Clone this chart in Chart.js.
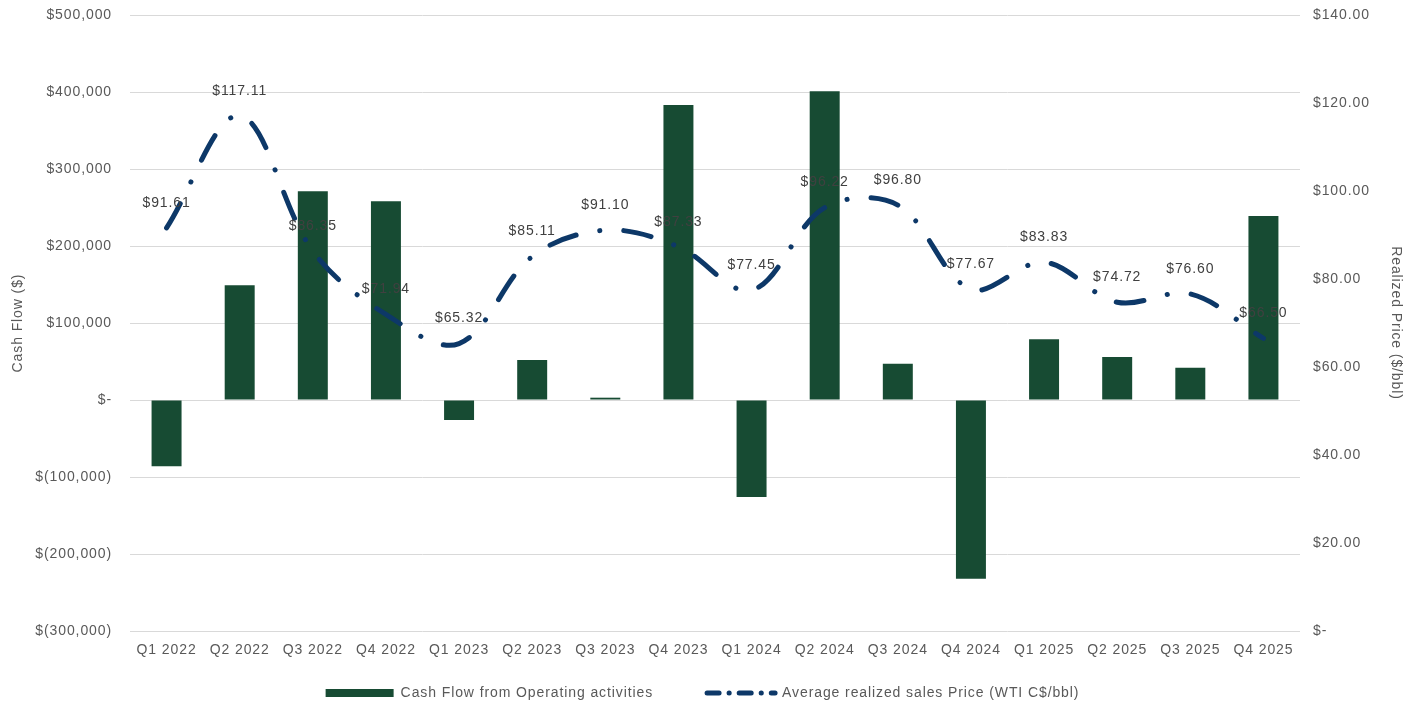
<!DOCTYPE html>
<html>
<head>
<meta charset="utf-8">
<script src="https://cdn.jsdelivr.net/npm/chart.js@4"></script>
<style>
  html, body { margin: 0; padding: 0; background: #fff; }
  #wrap { width: 1405px; height: 702px; }
</style>
</head>
<body>
<div id="wrap"><canvas id="chart"></canvas></div>
<script>
const quarters = ['Q1 2022', 'Q2 2022', 'Q3 2022', 'Q4 2022', 'Q1 2023', 'Q2 2023', 'Q3 2023', 'Q4 2023',
                  'Q1 2024', 'Q2 2024', 'Q3 2024', 'Q4 2024', 'Q1 2025', 'Q2 2025', 'Q3 2025', 'Q4 2025'];
const cashFlow = [-86000, 149000, 271000, 258000, -26000, 52000, 3000, 383000,
                  -126000, 401000, 47000, -232000, 79000, 56000, 42000, 239000];
const realizedPrice = [91.61, 117.11, 86.35, 71.94, 65.32, 85.11, 91.10, 87.33,
                       77.45, 96.22, 96.80, 77.67, 83.83, 74.72, 76.60, 66.50];

const barColor = '#174b33';
const lineColor = '#0d3868';
const textGray = '#595959';
const FONT = '"Liberation Sans", Arial, sans-serif';
const SPACING = '0.9px';

function money(v) {
  if (v === 0) return '$-';
  const s = Math.abs(v).toLocaleString('en-US');
  return v < 0 ? '$(' + s + ')' : '$' + s;
}

// the original's text is a bit wider than Liberation Sans, so widen it a little
const widerText = {
  id: 'widerText',
  beforeLayout(chart) { chart.ctx.letterSpacing = SPACING; },
  beforeDraw(chart) { chart.ctx.letterSpacing = SPACING; },
  // x axis is squeezed to make room for the wide legend gap; let its labels draw below
  afterLayout(chart) {
    const x = chart.scales.x;
    x.bottom = chart.height;
    x.height = x.bottom - x.top;
  }
};

// price labels above each point
const pointLabels = {
  id: 'pointLabels',
  afterDatasetsDraw(chart) {
    const meta = chart.getDatasetMeta(1);
    const ctx = chart.ctx;
    ctx.save();
    ctx.letterSpacing = SPACING;
    ctx.font = '14px ' + FONT;
    ctx.fillStyle = '#404040';
    ctx.textAlign = 'center';
    ctx.textBaseline = 'bottom';
    meta.data.forEach((pt, i) => {
      ctx.fillText('$' + realizedPrice[i].toFixed(2), pt.x, pt.y - 18);
    });
    ctx.restore();
  }
};

new Chart(document.getElementById('chart'), {
  data: {
    labels: quarters,
    datasets: [
      {
        type: 'bar',
        label: 'Cash Flow from Operating activities',
        data: cashFlow,
        backgroundColor: barColor,
        yAxisID: 'y',
        categoryPercentage: 1,
        barPercentage: 0.41,
        order: 2
      },
      {
        type: 'line',
        label: 'Average realized sales Price (WTI C$/bbl)',
        data: realizedPrice,
        borderColor: lineColor,
        backgroundColor: lineColor,
        borderWidth: 5,
        borderDash: [28, 24, 0.1, 24],
        borderCapStyle: 'round',
        tension: 0.35,
        pointRadius: 0,
        yAxisID: 'y1',
        order: 1
      }
    ]
  },
  options: {
    responsive: true,
    maintainAspectRatio: false,
    animation: false,
    layout: { padding: { left: 0, right: 0, top: 15, bottom: -8 } },
    plugins: {
      legend: {
        position: 'bottom',
        labels: {
          usePointStyle: true,
          pointStyleWidth: 68,
          boxHeight: 8,
          padding: 54,
          color: textGray,
          font: { family: FONT, size: 14 },
          sort: (a, b) => a.datasetIndex - b.datasetIndex,
          generateLabels(chart) {
            const items = Chart.defaults.plugins.legend.labels.generateLabels(chart);
            items.forEach(it => {
              if (it.datasetIndex === 0) {
                it.pointStyle = 'rect';
                it.lineWidth = 0;
              } else {
                it.pointStyle = 'line';
                it.lineWidth = 5;
                it.strokeStyle = lineColor;
                it.lineDash = [12, 10, 0.1, 10];
                it.lineCap = 'round';
              }
            });
            return items;
          }
        }
      },
      tooltip: { enabled: false }
    },
    scales: {
      x: {
        clip: false,
        grid: { display: false },
        border: { display: false },
        ticks: { color: textGray, font: { family: FONT, size: 14 }, maxRotation: 0, padding: 3 },
        afterFit(scale) { scale.height = 1; }
      },
      y: {
        position: 'left',
        min: -300000,
        max: 500000,
        clip: false,
        ticks: { stepSize: 100000, color: textGray, font: { family: FONT, size: 14 }, padding: 18, callback: v => money(v) },
        grid: { color: '#d9d9d9', lineWidth: 1, drawTicks: false },
        border: { display: false },
        title: { display: true, text: 'Cash Flow ($)', color: textGray, font: { family: FONT, size: 14 },
                 padding: { top: 10, bottom: 0 } },
        afterFit(scale) { scale.width = 130; scale.paddingTop = 0; scale.paddingBottom = 0; }
      },
      y1: {
        position: 'right',
        min: 0,
        max: 140,
        clip: false,
        ticks: { stepSize: 20, color: textGray, font: { family: FONT, size: 14 }, padding: 5,
                 callback: v => v === 0 ? '$-' : '$' + v.toFixed(2) },
        grid: { display: false },
        border: { display: false },
        title: { display: true, text: 'Realized Price ($/bbl)', color: textGray, font: { family: FONT, size: 14 },
                 padding: { top: 1, bottom: 1 } },
        afterFit(scale) { scale.width = 105; scale.paddingTop = 0; scale.paddingBottom = 0; }
      }
    }
  },
  plugins: [widerText, pointLabels]
});
</script>
</body>
</html>
